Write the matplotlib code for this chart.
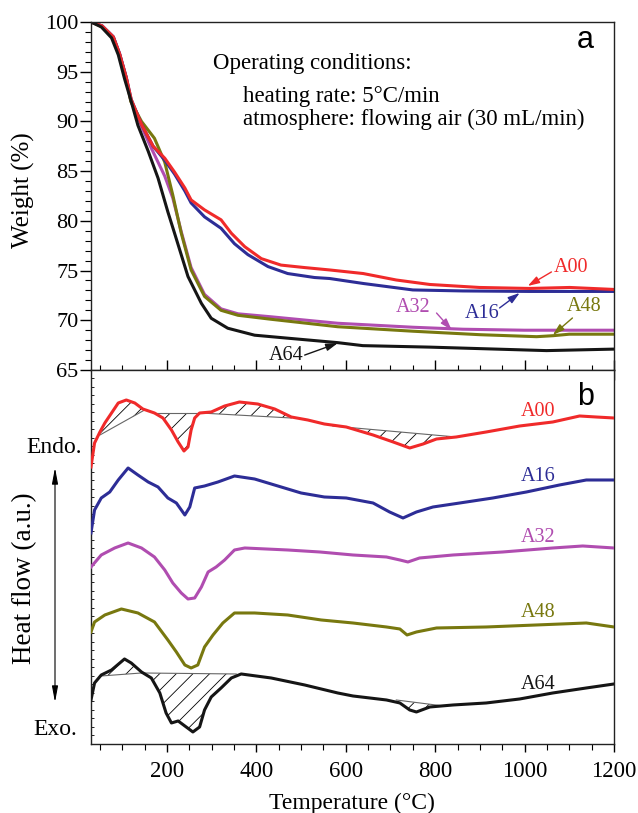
import numpy as np
import matplotlib.pyplot as plt
from matplotlib.ticker import MultipleLocator, NullFormatter

plt.rcParams['font.family'] = ['Liberation Serif', 'DejaVu Serif']
plt.rcParams['hatch.linewidth'] = 0.6

# ---- TGA (panel a) ----
t_a00 = [30, 55, 80, 94, 109, 120, 143, 169, 195, 217, 240, 254, 284, 321, 344, 374, 411, 455, 508, 564, 639, 713, 788, 899, 1011, 1101, 1200]
w_a00 = [100, 99.6, 98.5, 96.8, 94.4, 92.2, 89.7, 87.5, 86.3, 84.9, 83.3, 82.1, 81.1, 80.1, 78.75, 77.4, 76.2, 75.55, 75.3, 75.06, 74.7, 74.05, 73.6, 73.3, 73.2, 73.3, 73.1]
t_a16 = [30, 55, 80, 94, 109, 120, 143, 169, 195, 217, 240, 254, 284, 321, 351, 381, 426, 470, 530, 564, 639, 750, 862, 1011, 1200]
w_a16 = [100, 99.6, 98.5, 96.8, 94.4, 92.2, 89.7, 87.5, 86.1, 84.7, 83.0, 81.8, 80.4, 79.25, 77.7, 76.6, 75.4, 74.7, 74.3, 74.2, 73.7, 73.05, 72.95, 72.9, 72.9]
t_a32 = [30, 55, 80, 94, 109, 119, 143, 165, 195, 213, 232, 254, 284, 321, 359, 433, 582, 750, 862, 1000, 1200]
w_a32 = [100, 99.6, 98.5, 96.8, 94.4, 92.1, 89.5, 87.3, 84.5, 82.3, 78.9, 75.3, 72.6, 71.15, 70.65, 70.35, 69.7, 69.3, 69.1, 69.0, 69.0]
t_a48 = [30, 55, 80, 94, 109, 119, 143, 172, 195, 213, 232, 254, 284, 321, 359, 433, 582, 750, 900, 1027, 1064, 1100, 1200]
w_a48 = [100, 99.5, 98.4, 96.7, 94.3, 92.0, 90.0, 88.3, 85.9, 82.6, 78.75, 75.06, 72.4, 71.0, 70.5, 70.1, 69.35, 68.9, 68.55, 68.35, 68.45, 68.6, 68.6]
t_a64 = [30, 53, 76, 91, 105, 120, 135, 158, 180, 202, 217, 247, 277, 299, 336, 396, 470, 582, 638, 788, 937, 1049, 1200]
w_a64 = [100, 99.5, 98.4, 96.7, 94.3, 92.0, 89.6, 87.0, 84.3, 80.9, 78.75, 74.4, 71.7, 70.2, 69.2, 68.5, 68.2, 67.75, 67.45, 67.3, 67.1, 66.95, 67.1]

# ---- DSC (panel b), arbitrary units ----
td_a00 = [30, 38, 50, 61, 76, 91, 109, 128, 146, 172, 191, 210, 225, 238, 247, 254, 262, 273, 299, 329, 362, 403, 441, 478, 515, 552, 601, 661, 706, 743, 773, 803, 847, 914, 989, 1063, 1123, 1160, 1200]
h_a00 = [27.7, 30.1, 31.2, 32.1, 33.1, 34.1, 34.4, 34.1, 33.5, 33.1, 32.6, 31.4, 30.2, 29.3, 29.7, 31.4, 32.6, 33.1, 33.2, 33.8, 34.2, 34.0, 33.5, 32.7, 32.4, 32.0, 31.7, 30.9, 30.2, 29.6, 30.0, 30.5, 30.7, 31.2, 31.8, 32.2, 32.8, 32.7, 32.6]
td_a16 = [30, 38, 53, 72, 91, 113, 135, 158, 180, 202, 221, 240, 251, 262, 284, 314, 351, 396, 448, 500, 552, 601, 661, 698, 728, 758, 795, 855, 929, 1004, 1078, 1138, 1200]
h_a16 = [21.1, 23.4, 24.6, 25.2, 26.4, 27.6, 26.9, 26.2, 25.7, 24.6, 24.1, 22.9, 23.7, 25.6, 25.8, 26.2, 26.8, 26.5, 25.8, 25.1, 24.7, 24.6, 24.1, 23.2, 22.6, 23.2, 23.7, 24.1, 24.6, 25.2, 25.9, 26.4, 26.4]
td_a32 = [30, 53, 83, 113, 143, 172, 195, 213, 232, 247, 262, 277, 292, 310, 329, 351, 374, 470, 542, 616, 691, 721, 739, 765, 840, 951, 1063, 1130, 1200]
h_a32 = [17.7, 18.9, 19.6, 20.1, 19.6, 18.7, 17.4, 16.1, 15.1, 14.5, 14.6, 15.7, 17.2, 17.7, 18.4, 19.4, 19.6, 19.4, 19.2, 18.9, 18.7, 18.4, 18.2, 18.6, 18.9, 19.2, 19.6, 19.8, 19.6]
td_a48 = [30, 38, 61, 98, 135, 172, 202, 221, 240, 254, 269, 284, 303, 325, 351, 396, 470, 545, 616, 691, 721, 737, 758, 803, 914, 1026, 1138, 1200]
h_a48 = [11.2, 12.2, 12.9, 13.5, 13.1, 12.2, 10.4, 9.2, 7.9, 7.6, 7.9, 9.7, 10.9, 12.1, 13.1, 13.1, 12.9, 12.4, 12.1, 11.7, 11.5, 10.9, 11.2, 11.6, 11.7, 11.9, 12.1, 11.7]
td_a64 = [30, 38, 53, 76, 105, 120, 143, 165, 184, 198, 210, 225, 243, 258, 273, 284, 299, 321, 344, 366, 433, 508, 582, 616, 691, 721, 743, 758, 788, 840, 914, 989, 1063, 1138, 1200]
h_a64 = [4.4, 6.1, 6.9, 7.4, 8.5, 8.1, 7.2, 6.6, 5.1, 3.1, 2.1, 2.3, 1.7, 1.2, 1.7, 3.4, 4.7, 5.6, 6.6, 7.0, 6.6, 5.9, 5.1, 4.8, 4.4, 4.1, 3.4, 3.2, 3.7, 3.9, 4.1, 4.5, 5.1, 5.6, 6.0]

# hatched peak areas: (start T, start H, end T, end H) of the straight baseline
peaks_a00 = [(50, 30.9, 150, 33.4), (176, 33.1, 273, 33.1), (275, 33.1, 478, 32.6), (571, 31.8, 847, 30.7)]
peaks_a64 = [(53, 6.8, 143, 7.1), (143, 7.1, 355, 7.0), (713, 4.4, 810, 3.85)]

names = ['A00', 'A16', 'A32', 'A48', 'A64']
colors = ['#f02a2a', '#2d2d96', '#b04db0', '#78780f', '#151515']

fig = plt.figure(figsize=(6.38, 8.13), dpi=100)
ax1 = fig.add_axes([0.1426, 0.5449, 0.8198, 0.4281])
ax2 = fig.add_axes([0.1426, 0.0849, 0.8198, 0.4600])

tga = [(t_a00, w_a00), (t_a16, w_a16), (t_a32, w_a32), (t_a48, w_a48), (t_a64, w_a64)]
for i in [2, 3, 1, 0, 4]:
    ax1.plot(tga[i][0], tga[i][1], color=colors[i], lw=2.2, solid_capstyle='round')

ax1.set_xlim(30, 1200)
ax1.set_ylim(65, 100)
ax1.yaxis.set_major_locator(MultipleLocator(5))
ax1.yaxis.set_minor_locator(MultipleLocator(1))
ax1.xaxis.set_major_locator(MultipleLocator(200))
ax1.xaxis.set_minor_locator(MultipleLocator(50))
ax1.xaxis.set_major_formatter(NullFormatter())
ax1.tick_params(axis='x', which='major', direction='inout', length=14, width=1)
ax1.tick_params(axis='x', which='minor', direction='inout', length=7, width=0.8)
ax1.tick_params(axis='y', which='major', direction='out', length=8, width=1, labelsize=16, pad=1)
ax1.tick_params(axis='y', which='minor', direction='out', length=4, width=0.8)

ax1.text(303, 95.24, 'Operating conditions:', fontsize=16.5, va='baseline')
ax1.text(370, 91.98, 'heating rate: 5\u00b0C/min', fontsize=16.5, va='baseline')
ax1.text(370, 89.64, 'atmosphere: flowing air (30 mL/min)', fontsize=16.5, va='baseline')
ax1.text(0.945, 0.948, 'a', transform=ax1.transAxes, fontsize=22, family='Liberation Sans', ha='center', va='center')

arrow_kw = dict(arrowstyle='-|>,head_length=0.7,head_width=0.22', lw=1.0, shrinkA=0, shrinkB=0)
tga_labels = [
    ('A00', (1105, 75.26), (1060, 74.86), (1007, 73.45)),
    ('A16', (904, 70.73), (944, 71.24), (989, 72.75)),
    ('A32', (750, 71.24), (803, 70.73), (837, 69.02)),
    ('A48', (1134, 71.34), (1107, 70.23), (1063, 68.52)),
    ('A64', (466, 66.5), (508, 66.5), (582, 67.7)),
]
for (nm, txt, tail, head) in tga_labels:
    c = colors[names.index(nm)]
    ax1.text(txt[0], txt[1], nm, color=c, fontsize=14.5, ha='center', va='center')
    ax1.annotate('', xy=head, xytext=tail, arrowprops=dict(color=c, **arrow_kw))

# ---- panel b ----
def hatch_peaks(ax, t, h, peaks):
    t = np.asarray(t, float)
    h = np.asarray(h, float)
    for (t0, b0, t1, b1) in peaks:
        m = (t > t0) & (t < t1)
        xs = np.concatenate([[t0], t[m], [t1]])
        ys = np.concatenate([[b0], h[m], [b1]])
        ax.fill(xs, ys, facecolor='none', edgecolor='k', hatch='//', linewidth=0, zorder=1)
        ax.plot([t0, t1], [b0, b1], color='#666666', lw=0.8, zorder=1.5)

hatch_peaks(ax2, td_a00, h_a00, peaks_a00)
hatch_peaks(ax2, td_a64, h_a64, peaks_a64)

dsc = [(td_a00, h_a00), (td_a16, h_a16), (td_a32, h_a32), (td_a48, h_a48), (td_a64, h_a64)]
label_y = [33.2, 26.7, 20.6, 13.1, 5.9]
for i, (t, h) in enumerate(dsc):
    ax2.plot(t, h, color=colors[i], lw=2.2, zorder=3)
    ax2.text(1031, label_y[i], names[i], color=colors[i], fontsize=14.5, ha='center', va='center')

ax2.set_xlim(30, 1200)
ax2.set_ylim(0, 37.4)
ax2.xaxis.set_major_locator(MultipleLocator(200))
ax2.xaxis.set_minor_locator(MultipleLocator(50))
ax2.tick_params(axis='x', which='major', direction='out', length=6, width=1, labelsize=16.5, pad=6, top=False)
ax2.tick_params(axis='x', which='minor', direction='out', length=4, width=0.8, top=False)
ax2.yaxis.set_major_locator(MultipleLocator(0.85))
ax2.yaxis.set_major_formatter(NullFormatter())
ax2.tick_params(axis='y', which='major', direction='in', length=2, width=0.6)
ax2.text(0.945, 0.928, 'b', transform=ax2.transAxes, fontsize=22, family='Liberation Sans', ha='center', va='center')

for ax in (ax1, ax2):
    for s in ax.spines.values():
        s.set_linewidth(1.0)
        s.set_color('#222222')

fig.text(23 / 638, 1 - 190 / 813, 'Weight (%)', rotation=90, fontsize=18, ha='center', va='center')
fig.text(25 / 638, 1 - 578 / 813, 'Heat flow (a.u.)', rotation=90, fontsize=19.5, ha='center', va='center')
fig.text(54.5 / 638, 1 - 447 / 813, 'Endo.', fontsize=17, ha='center', va='center')
fig.text(55.5 / 638, 1 - 729 / 813, 'Exo.', fontsize=17, ha='center', va='center')
fig.text(352 / 638, 1 - 803 / 813, 'Temperature (\u00b0C)', fontsize=17, ha='center', va='center')
fig.add_artist(plt.matplotlib.patches.FancyArrowPatch(
    (55 / 638, 1 - 465 / 813), (55 / 638, 1 - 705 / 813), transform=fig.transFigure,
    arrowstyle='<|-|>,head_length=0.8,head_width=0.15', mutation_scale=12, lw=0.8, color='k'))

fig.savefig('out.png', dpi=100)
